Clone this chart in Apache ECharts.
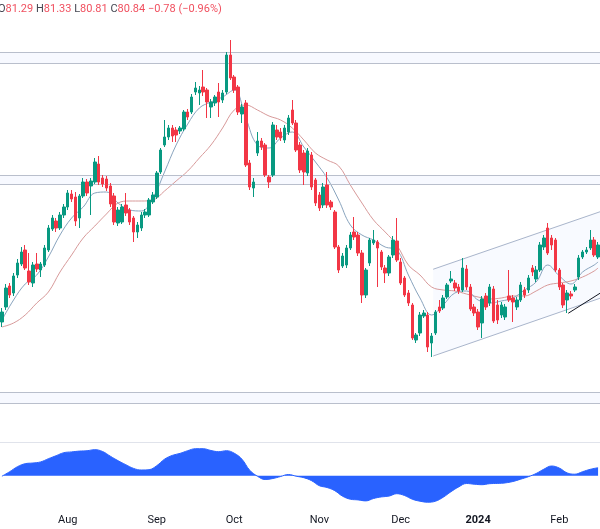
<!DOCTYPE html>
<html><head><meta charset="utf-8">
<script src="https://cdn.jsdelivr.net/npm/echarts@6/dist/echarts.min.js"></script>
<style>html,body{margin:0;padding:0;background:#fff}#c{width:600px;height:529px}</style>
</head><body><div id="c"></div>
<script>
const dates = [
'2023-07-07','2023-07-10','2023-07-11','2023-07-12','2023-07-13','2023-07-14','2023-07-17','2023-07-18','2023-07-19','2023-07-20','2023-07-21','2023-07-24','2023-07-25','2023-07-26','2023-07-27','2023-07-28','2023-07-31',
'2023-08-01','2023-08-02','2023-08-03','2023-08-04','2023-08-07','2023-08-08','2023-08-09','2023-08-10','2023-08-11','2023-08-14','2023-08-15','2023-08-16','2023-08-17','2023-08-18','2023-08-21','2023-08-22','2023-08-23','2023-08-24','2023-08-25','2023-08-28','2023-08-29','2023-08-30','2023-08-31',
'2023-09-01','2023-09-05','2023-09-06','2023-09-07','2023-09-08','2023-09-11','2023-09-12','2023-09-13','2023-09-14','2023-09-15','2023-09-18','2023-09-19','2023-09-20','2023-09-21','2023-09-22','2023-09-25','2023-09-26','2023-09-27','2023-09-28','2023-09-29',
'2023-10-02','2023-10-03','2023-10-04','2023-10-05','2023-10-06','2023-10-09','2023-10-10','2023-10-11','2023-10-12','2023-10-13','2023-10-16','2023-10-17','2023-10-18','2023-10-19','2023-10-20','2023-10-23','2023-10-24','2023-10-25','2023-10-26','2023-10-27','2023-10-30','2023-10-31',
'2023-11-01','2023-11-02','2023-11-03','2023-11-06','2023-11-07','2023-11-08','2023-11-09','2023-11-10','2023-11-13','2023-11-14','2023-11-15','2023-11-16','2023-11-17','2023-11-20','2023-11-21','2023-11-22','2023-11-24','2023-11-27','2023-11-28','2023-11-29','2023-11-30',
'2023-12-01','2023-12-04','2023-12-05','2023-12-06','2023-12-07','2023-12-08','2023-12-11','2023-12-12','2023-12-13','2023-12-14','2023-12-15','2023-12-18','2023-12-19','2023-12-20','2023-12-21','2023-12-22','2023-12-26','2023-12-27','2023-12-28','2023-12-29',
'2024-01-02','2024-01-03','2024-01-04','2024-01-05','2024-01-08','2024-01-09','2024-01-10','2024-01-11','2024-01-12','2024-01-16','2024-01-17','2024-01-18','2024-01-19','2024-01-22','2024-01-23','2024-01-24','2024-01-25','2024-01-26','2024-01-29','2024-01-30','2024-01-31',
'2024-02-01','2024-02-02','2024-02-05','2024-02-06','2024-02-07','2024-02-08','2024-02-09','2024-02-12','2024-02-13','2024-02-14','2024-02-15'
];
const opens = [
74.64,75.84,77.52,76.96,78.40,79.28,80.40,78.72,77.76,79.28,
78.80,79.20,80.40,82.08,82.72,82.16,83.20,83.84,84.88,84.64,
82.96,84.72,85.84,85.52,85.84,87.28,86.16,86.08,85.52,84.72,
82.56,82.64,84.00,83.60,82.96,81.84,82.16,83.20,83.20,84.24,
84.64,86.64,88.80,89.44,90.16,90.00,89.92,90.08,91.44,91.44,
93.04,92.96,93.44,93.20,91.84,92.16,93.04,92.40,93.04,96.00,
94.24,93.44,91.28,92.16,87.36,85.36,88.16,89.12,88.80,86.24,
86.40,90.00,89.84,89.20,89.84,91.60,90.56,88.80,88.16,86.56,
88.00,86.00,84.80,84.00,85.60,84.24,83.44,80.64,79.12,79.20,
80.56,81.84,81.60,80.16,76.80,79.36,80.96,81.04,80.24,78.96,
78.56,80.00,81.12,79.44,78.16,76.96,76.00,73.20,73.76,75.12,
75.20,72.96,73.76,75.84,75.76,76.64,77.92,77.76,77.44,77.20,
78.88,77.44,75.84,75.44,74.56,76.72,76.16,77.28,76.00,75.20,
75.04,76.72,76.56,75.84,76.40,77.20,77.20,78.96,78.08,78.80,
80.64,82.16,81.36,81.20,78.80,77.60,76.40,76.88,77.20,78.24,
79.84,80.24,80.56,81.20,79.84
];
const closes = [
75.44,77.36,76.80,78.32,79.36,80.24,78.96,77.84,79.20,78.88,
79.28,80.56,82.16,82.96,82.16,83.20,83.84,84.96,84.48,82.72,
84.72,85.84,84.96,85.92,87.44,85.84,85.68,85.36,84.08,82.64,
83.60,83.84,83.36,82.64,81.84,82.40,83.20,83.44,84.40,84.80,
86.56,88.40,89.44,90.16,89.52,89.60,90.16,91.44,91.04,92.64,
93.36,93.20,93.04,92.24,92.24,92.64,92.24,92.96,96.00,94.16,
93.20,91.44,91.84,87.20,85.44,85.84,89.12,88.64,86.40,85.84,
90.40,89.44,89.36,90.16,90.96,90.56,88.40,86.80,86.64,88.32,
85.44,84.16,83.76,85.44,84.00,83.84,80.64,78.80,79.92,80.56,
81.60,81.44,80.16,76.80,78.80,81.20,81.20,80.56,79.04,78.56,
79.84,81.20,79.60,77.76,76.80,76.16,73.36,73.60,75.20,75.36,
72.64,73.52,75.44,75.52,76.56,77.60,78.08,77.36,77.12,78.96,
77.44,75.68,75.36,74.24,76.48,75.84,77.44,74.72,74.80,76.00,
75.84,76.40,76.24,76.40,77.60,76.80,78.16,78.64,78.80,80.80,
81.36,80.16,80.80,78.80,77.44,76.00,76.96,76.72,77.44,79.76,
80.24,80.40,81.20,80.00,80.80
];
const lows = [
74.24,75.60,76.56,76.72,78.16,79.12,78.80,77.60,77.44,78.64,
78.24,79.04,80.24,81.92,81.84,82.00,82.96,83.60,84.24,82.32,
82.16,84.56,84.72,83.20,85.68,85.60,85.44,85.12,83.84,82.40,
82.32,82.48,83.12,82.40,81.04,81.36,81.92,82.96,83.04,84.08,
84.48,86.48,88.64,89.20,89.04,89.04,89.68,89.92,90.80,91.28,
92.80,92.00,92.72,90.96,90.96,91.92,91.04,92.16,92.88,94.00,
92.96,91.20,90.56,87.04,85.20,84.64,87.92,88.40,86.24,85.36,
86.24,89.20,89.12,88.96,89.60,90.40,88.24,86.56,85.60,86.32,
85.20,83.92,83.52,83.76,83.76,83.60,80.48,78.56,78.96,78.96,
80.40,81.20,79.92,76.16,76.56,79.12,80.80,77.44,78.80,77.76,
78.32,79.76,79.44,77.60,76.64,75.92,73.20,72.96,73.52,74.96,
72.24,71.84,73.60,75.36,75.60,76.48,77.76,77.12,76.88,77.04,
77.20,75.52,75.12,74.00,73.36,75.60,75.92,74.56,74.48,74.96,
74.80,76.24,74.64,75.60,76.24,76.56,76.96,78.32,77.84,78.64,
80.40,80.00,80.40,78.64,77.20,75.76,75.36,76.48,77.04,78.00,
79.68,80.08,80.40,79.84,79.68
];
const highs = [
75.76,77.68,77.76,78.56,79.68,80.64,80.80,80.16,79.44,80.16,
79.44,80.80,82.40,83.20,82.96,83.44,84.08,85.20,85.20,85.04,
84.88,86.16,86.08,86.16,87.76,87.92,86.40,86.32,85.76,84.96,
83.84,84.08,84.96,83.76,83.12,82.64,83.44,83.68,84.56,85.04,
86.72,88.56,90.80,90.40,90.40,90.24,90.32,91.60,91.68,92.88,
93.84,93.52,94.80,93.36,92.48,92.80,93.76,93.20,96.24,97.20,
94.40,93.60,92.08,92.40,87.60,86.16,89.84,89.36,88.96,86.40,
90.64,90.40,90.16,90.40,91.20,92.40,90.80,89.04,88.40,88.56,
88.24,86.16,85.04,85.76,86.64,84.40,83.60,80.80,80.16,80.80,
81.84,83.04,81.84,80.40,78.96,81.36,82.00,81.20,80.40,79.20,
80.00,81.52,82.96,79.76,78.32,77.20,76.16,73.76,75.44,75.60,
75.44,73.76,75.60,76.40,76.80,77.76,78.72,78.00,77.68,79.76,
79.20,77.68,76.08,75.68,76.72,76.96,77.68,77.52,76.40,76.24,
76.08,78.80,76.80,76.64,77.84,77.44,78.40,79.20,79.12,81.04,
81.60,82.56,81.60,81.36,78.96,77.76,77.20,77.12,77.68,80.00,
80.40,80.64,82.00,81.44,81.04
];
// moving averages read every 3rd session (plus the last one)
const maFast = [
74.80,76.40,77.68,78.40,79.84,81.60,82.96,83.84,84.96,85.04,
84.16,83.60,83.52,84.56,86.64,88.80,90.48,91.76,92.24,92.64,
93.20,90.96,88.80,88.56,89.36,89.84,88.64,87.44,86.16,84.40,
82.40,81.60,81.20,80.64,80.40,78.40,76.56,75.20,76.00,76.96,
77.12,76.40,76.16,76.32,76.56,77.20,77.84,79.20,78.32,77.68,
78.64,79.20,79.44
];
const maSlow = [
74.24,74.56,75.20,76.16,77.04,78.64,80.00,81.36,82.32,83.28,
84.16,84.32,84.32,84.40,85.12,85.92,86.72,87.76,88.80,90.16,
91.60,92.00,91.60,91.12,90.80,90.16,89.20,88.16,87.60,87.12,
85.60,84.16,82.80,81.84,80.80,79.20,78.40,77.44,77.20,77.12,
76.88,76.64,76.48,76.56,76.72,76.72,77.12,77.60,77.76,77.92,
78.24,78.72,78.96
];
// oscillator read every 2nd session
const osc = [
-0.05,0.40,0.90,1.20,1.27,1.38,1.70,2.00,2.30,2.38,
2.46,2.50,2.60,2.42,1.95,1.50,1.10,0.73,0.57,0.60,
1.00,1.65,2.03,2.23,2.50,2.70,2.70,2.52,2.40,2.50,
2.25,1.65,0.55,-0.05,-0.38,-0.28,-0.08,0.12,-0.05,-0.20,
-0.50,-1.00,-1.18,-1.50,-2.05,-2.35,-2.42,-2.52,-2.28,-2.12,
-2.04,-1.80,-1.98,-2.35,-2.55,-2.65,-2.55,-2.15,-1.60,-1.12,
-0.78,-0.85,-0.90,-0.80,-0.77,-0.72,-0.58,-0.35,-0.10,0.22,
0.65,0.97,0.76,0.28,0.15,0.40,0.64,0.80
];
// horizontal zones [top, bottom] in price
const zones = [[96.18,95.34],[86.40,85.68],[68.98,68.14]];
// channel and trend line: [session index, price]
const channelUpper = [[111.4,78.86],[154.5,83.46]];
const channelLower = [[111.4,71.92],[154.5,76.54]];
const trendLine = [[146.3,75.34],[154.5,76.94]];
const monthNames = ['Jan','Feb','Mar','Apr','May','Jun','Jul','Aug','Sep','Oct','Nov','Dec'];
const headerText = '{k|O}{v|81.29} {k|H}{v|81.33} {k|L}{v|80.81} {k|C}{v|80.84} {v|\u22120.78 (\u22120.96%)}';

const N = dates.length;
const maDates = dates.filter((d, i) => i % 3 === 0 || i === N - 1);
const oscDates = dates.filter((d, i) => i % 2 === 0);
const FONT = 'Roboto, "Noto Sans", sans-serif';

const chart = echarts.init(document.getElementById('c'), null, {renderer: 'canvas'});
chart.setOption({
  animation: false,
  backgroundColor: '#ffffff',
  textStyle: {fontFamily: FONT},
  grid: [
    {left: 0, right: 0, top: 5, height: 437.5},
    {left: 0, right: 0, top: 441.7, height: 68}
  ],
  xAxis: [
    {type: 'category', gridIndex: 0, data: dates, boundaryGap: true,
     axisLine: {show: true, lineStyle: {color: '#e0e3eb', width: 1}},
     axisTick: {show: false}, axisLabel: {show: false}, splitLine: {show: false}},
    {type: 'category', gridIndex: 1, data: dates, boundaryGap: true,
     axisLine: {show: false}, axisTick: {show: false}, splitLine: {show: false},
     axisLabel: {
       margin: 5, color: '#131722', fontSize: 11, fontFamily: FONT,
       interval: (idx, val) => idx > 0 && val.slice(0, 7) !== dates[idx - 1].slice(0, 7),
       formatter: (val) => {
         const m = +val.slice(5, 7);
         return m === 1 ? '{y|' + val.slice(0, 4) + '}' : monthNames[m - 1];
       },
       rich: {y: {fontWeight: 'bold', fontSize: 11, color: '#131722', fontFamily: FONT}}
     }},
    {type: 'value', gridIndex: 0, min: -0.5, max: N - 0.5, show: false}
  ],
  yAxis: [
    {type: 'value', gridIndex: 0, min: 65, max: 100, show: false},
    {type: 'value', gridIndex: 1, min: -3.4, max: 3.4, show: false}
  ],
  graphic: [{
    type: 'text', left: -2, top: 4, z: 100,
    style: {
      text: headerText,
      font: '11px ' + FONT,
      rich: {
        k: {fill: '#434651', fontSize: 11, fontFamily: FONT},
        v: {fill: '#f0505f', fontSize: 11, fontFamily: FONT}
      }
    }
  }],
  series: [
    {
      type: 'line', xAxisIndex: 2, yAxisIndex: 0, data: [], silent: true, z: 1,
      markArea: {
        silent: true,
        itemStyle: {color: 'rgba(41,98,255,0.035)', borderWidth: 0},
        data: zones.map(z => [{yAxis: z[0]}, {yAxis: z[1]}])
      },
      markLine: {
        silent: true, symbol: 'none', label: {show: false},
        lineStyle: {color: '#b9bfcc', type: 'solid', width: 1},
        data: zones.flat().map(v => ({yAxis: v}))
      }
    },
    {
      type: 'custom', xAxisIndex: 2, yAxisIndex: 0, silent: true, z: 2,
      data: [[0, 0]],
      renderItem: (params, api) => {
        const u0 = api.coord(channelUpper[0]), u1 = api.coord(channelUpper[1]);
        const l0 = api.coord(channelLower[0]), l1 = api.coord(channelLower[1]);
        return {type: 'group', children: [
          {type: 'polygon', shape: {points: [u0, u1, l1, l0]}, style: {fill: 'rgba(41,98,255,0.03)'}},
          {type: 'line', shape: {x1: u0[0], y1: u0[1], x2: u1[0], y2: u1[1]}, style: {stroke: '#a9b5cb', lineWidth: 1}},
          {type: 'line', shape: {x1: l0[0], y1: l0[1], x2: l1[0], y2: l1[1]}, style: {stroke: '#a9b5cb', lineWidth: 1}}
        ]};
      }
    },
    {
      type: 'line', xAxisIndex: 0, yAxisIndex: 0, z: 3, silent: true,
      data: maDates.map((d, i) => [d, maSlow[i]]),
      smooth: 0.4, symbol: 'none', lineStyle: {color: '#d89a9a', width: 1}
    },
    {
      type: 'line', xAxisIndex: 0, yAxisIndex: 0, z: 3, silent: true,
      data: maDates.map((d, i) => [d, maFast[i]]),
      smooth: 0.4, symbol: 'none', lineStyle: {color: '#89a4be', width: 1}
    },
    {
      type: 'candlestick', xAxisIndex: 0, yAxisIndex: 0, z: 5,
      barWidth: 3,
      data: dates.map((d, i) => [opens[i], closes[i], lows[i], highs[i]]),
      itemStyle: {color: '#089981', color0: '#f23645', borderColor: '#089981', borderColor0: '#f23645', borderWidth: 1}
    },
    {
      type: 'line', xAxisIndex: 2, yAxisIndex: 0, z: 6, silent: true,
      data: trendLine, symbol: 'none', lineStyle: {color: '#131722', width: 1}
    },
    {
      type: 'line', xAxisIndex: 1, yAxisIndex: 1, silent: true,
      data: oscDates.map((d, i) => [d, osc[i]]),
      smooth: 0.4, symbol: 'none',
      lineStyle: {color: '#2962ff', width: 1},
      areaStyle: {color: '#2962ff', opacity: 1}
    }
  ]
});
</script>
</body></html>
